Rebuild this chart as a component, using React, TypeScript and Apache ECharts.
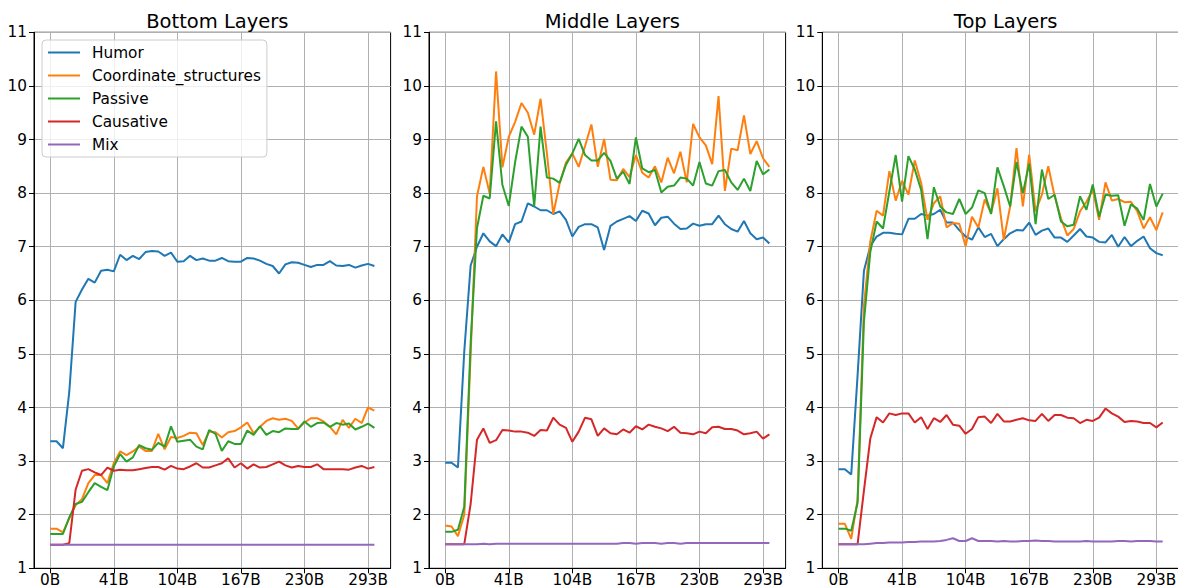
import React, { useEffect, useRef } from "react";
import * as echarts from "echarts";

const panelTitles = ["Bottom Layers", "Middle Layers", "Top Layers"];
const seriesNames = ["Humor", "Coordinate_structures", "Passive", "Causative", "Mix"];
const seriesColors = ["#1f77b4", "#ff7f0e", "#2ca02c", "#d62728", "#9467bd"];
const tickIndices = [0, 10, 20, 30, 40, 50];
const tickLabels = ["0B", "41B", "104B", "167B", "230B", "293B"];
const yTicks = [1, 2, 3, 4, 5, 6, 7, 8, 9, 10, 11];

// Bottom layers
const humorBottom = [3.37,3.37,3.24,4.29,5.97,6.2,6.4,6.33,6.55,6.57, 6.54,6.85,6.75,6.83,6.77,6.9,6.92,6.91,6.83,6.89, 6.72,6.73,6.83,6.75,6.78,6.74,6.74,6.79,6.73,6.72, 6.72,6.79,6.78,6.74,6.68,6.64,6.5,6.67,6.71,6.7, 6.66,6.62,6.66,6.66,6.73,6.65,6.64,6.66,6.61,6.65, 6.68,6.64];
const coordBottom = [1.74,1.74,1.67,1.93,2.18,2.29,2.59,2.74,2.74,2.59, 2.96,3.18,3.11,3.18,3.27,3.19,3.19,3.51,3.22,3.45, 3.43,3.47,3.53,3.52,3.30,3.55,3.54,3.44,3.54,3.56, 3.63,3.72,3.52,3.64,3.75,3.80,3.77,3.79,3.75,3.61, 3.72,3.80,3.80,3.74,3.64,3.50,3.77,3.62,3.79,3.71, 4.00,3.94];
const passiveBottom = [1.64,1.64,1.64,1.95,2.20,2.24,2.42,2.59,2.52,2.46, 2.90,3.13,2.99,3.07,3.30,3.24,3.21,3.34,3.27,3.65, 3.36,3.38,3.40,3.27,3.22,3.58,3.51,3.19,3.37,3.32, 3.32,3.57,3.49,3.65,3.49,3.56,3.54,3.61,3.60,3.60, 3.74,3.64,3.71,3.72,3.64,3.71,3.68,3.70,3.59,3.64, 3.70,3.62];
const causBottom = [1.44,1.44,1.44,1.47,2.47,2.82,2.85,2.79,2.74,2.88, 2.82,2.84,2.83,2.83,2.85,2.87,2.89,2.89,2.84,2.91, 2.86,2.85,2.90,2.96,2.88,2.88,2.92,2.96,3.05,2.88, 2.96,2.86,2.94,2.88,2.89,2.94,2.99,2.92,2.88,2.91, 2.89,2.89,2.94,2.85,2.85,2.85,2.85,2.84,2.88,2.91, 2.86,2.89];
const mixBottom = [1.44,1.44,1.44,1.44,1.44,1.44,1.44,1.44,1.44,1.44, 1.44,1.44,1.44,1.44,1.44,1.44,1.44,1.44,1.44,1.44, 1.44,1.44,1.44,1.44,1.44,1.44,1.44,1.44,1.44,1.44, 1.44,1.44,1.44,1.44,1.44,1.44,1.44,1.44,1.44,1.44, 1.44,1.44,1.44,1.44,1.44,1.44,1.44,1.44,1.44,1.44, 1.44,1.44];

// Middle layers
const humorMiddle = [2.97,2.97,2.88,5.05,6.65,7.0,7.25,7.1,7.01,7.23, 7.08,7.42,7.47,7.81,7.75,7.68,7.68,7.61,7.66,7.50, 7.19,7.37,7.42,7.42,7.36,6.94,7.39,7.47,7.52,7.57, 7.48,7.67,7.62,7.40,7.54,7.56,7.43,7.33,7.34,7.43, 7.39,7.42,7.42,7.58,7.42,7.33,7.28,7.48,7.25,7.14, 7.17,7.06];
const coordMiddle = [1.80,1.78,1.60,2.0,5.0,7.94,8.49,7.99,10.27,8.48, 9.05,9.33,9.68,9.50,9.09,9.76,8.74,7.61,8.18,8.57, 8.74,8.49,8.88,9.28,8.49,9.01,8.25,8.24,8.45,8.30, 8.71,8.38,8.29,8.50,8.20,8.66,8.37,8.77,8.20,9.29, 9.04,8.89,8.54,9.81,8.04,8.83,8.80,9.45,8.73,8.97, 8.65,8.49];
const passiveMiddle = [1.68,1.68,1.72,2.15,5.2,7.35,7.95,7.90,9.34,8.15, 7.76,8.58,9.24,9.05,7.75,9.24,8.29,8.27,8.19,8.53, 8.74,9.01,8.71,8.61,8.61,8.75,8.60,8.27,8.40,8.17, 9.04,8.46,8.39,8.43,8.01,8.12,8.14,8.29,8.27,8.14, 8.58,8.18,8.14,8.41,8.43,8.20,8.06,8.27,8.04,8.60, 8.35,8.44];
const causMiddle = [1.45,1.45,1.45,1.45,2.2,3.40,3.61,3.34,3.39,3.58, 3.57,3.55,3.55,3.53,3.47,3.58,3.57,3.81,3.68,3.62, 3.36,3.55,3.81,3.78,3.47,3.61,3.52,3.50,3.59,3.53, 3.65,3.59,3.68,3.64,3.61,3.56,3.64,3.53,3.52,3.50, 3.55,3.52,3.63,3.64,3.60,3.60,3.57,3.50,3.52,3.55, 3.42,3.50];
const mixMiddle = [1.45,1.45,1.45,1.45,1.45,1.45,1.46,1.45,1.46,1.46, 1.46,1.46,1.46,1.46,1.46,1.46,1.46,1.46,1.46,1.46, 1.46,1.46,1.46,1.46,1.46,1.46,1.46,1.46,1.47,1.47, 1.46,1.47,1.47,1.47,1.46,1.47,1.47,1.46,1.47,1.47, 1.47,1.47,1.47,1.47,1.47,1.47,1.47,1.47,1.47,1.47, 1.47,1.47];

// Top layers
const humorTop = [2.85,2.85,2.75,4.6,6.55,7.01,7.19,7.26,7.26,7.24, 7.23,7.52,7.52,7.61,7.58,7.61,7.69,7.45,7.45,7.31, 7.19,7.13,7.36,7.18,7.24,7.01,7.14,7.25,7.31,7.30, 7.45,7.22,7.30,7.34,7.17,7.17,7.09,7.21,7.33,7.19, 7.17,7.09,7.08,7.22,7.00,7.18,7.01,7.11,7.19,6.97, 6.88,6.84];
const coordTop = [1.83,1.83,1.55,2.28,5.9,7.1,7.67,7.58,8.41,7.86, 8.23,7.97,8.61,8.19,7.50,7.81,7.94,7.36,7.44,7.43, 7.01,7.56,7.36,7.88,7.63,8.09,7.13,7.75,8.84,7.75, 8.72,7.66,7.97,8.50,7.94,7.53,7.21,7.33,7.66,7.84, 8.06,7.50,8.20,7.86,7.89,7.83,7.84,7.66,7.34,7.55, 7.31,7.64];
const passiveTop = [1.74,1.74,1.70,2.22,5.6,6.9,7.47,7.34,8.03,8.71, 7.84,8.69,8.44,8.06,7.14,8.11,7.75,7.64,7.61,7.89, 7.61,7.73,8.05,8.00,7.61,8.48,8.13,7.75,8.58,8.00, 8.55,7.42,8.44,7.89,7.97,7.47,7.38,7.41,7.94,7.69, 8.16,7.56,7.97,7.95,7.96,7.39,7.79,7.71,7.50,8.17, 7.75,7.99];
const causTop = [1.45,1.45,1.45,1.45,2.45,3.42,3.82,3.72,3.89,3.86, 3.89,3.89,3.72,3.82,3.60,3.80,3.73,3.86,3.68,3.66, 3.51,3.60,3.82,3.83,3.71,3.88,3.74,3.74,3.77,3.80, 3.76,3.75,3.88,3.75,3.86,3.86,3.81,3.80,3.71,3.77, 3.75,3.81,3.98,3.89,3.83,3.73,3.75,3.74,3.71,3.71, 3.63,3.72];
const mixTop = [1.45,1.45,1.45,1.45,1.45,1.46,1.47,1.47,1.48,1.48, 1.48,1.49,1.49,1.50,1.50,1.50,1.51,1.53,1.56,1.51, 1.51,1.56,1.51,1.51,1.51,1.50,1.51,1.50,1.50,1.51, 1.51,1.52,1.51,1.51,1.50,1.50,1.50,1.50,1.50,1.51, 1.50,1.50,1.50,1.50,1.51,1.51,1.50,1.51,1.51,1.51, 1.50,1.50];

const panelData = [
  [humorBottom, coordBottom, passiveBottom, causBottom, mixBottom],
  [humorMiddle, coordMiddle, passiveMiddle, causMiddle, mixMiddle],
  [humorTop, coordTop, passiveTop, causTop, mixTop],
];

const FONT = "DejaVu Sans";
const gridLefts = [34, 429, 822.3];
const GRID_TOP = 32.3;
const GRID_W = 356.6;
const GRID_H = 536;

export default function App() {
  const ref = useRef<HTMLDivElement>(null);
  useEffect(() => {
    if (!ref.current) return;
    const chart = echarts.init(ref.current, undefined, { renderer: "svg" });
    const grids = gridLefts.map((left) => ({
      left,
      top: GRID_TOP,
      width: GRID_W,
      height: GRID_H,
      show: true,
      borderColor: "#000",
      borderWidth: 1,
      backgroundColor: "transparent",
      containLabel: false,
      outerBoundsMode: "none",
    }));
    const xAxes = gridLefts.map((_, p) => ({
      type: "value",
      gridIndex: p,
      min: -2.55,
      max: 53.55,
      axisLine: { show: true, onZero: false, lineStyle: { color: "#000", width: 1 } },
      axisTick: { show: true, customValues: tickIndices, length: 5, lineStyle: { color: "#000", width: 1 } },
      axisLabel: {
        customValues: tickIndices,
        formatter: (v: number) => {
          const k = tickIndices.indexOf(Math.round(v));
          return k >= 0 ? tickLabels[k] : "";
        },
        fontSize: 15.3,
        lineHeight: 15,
        fontFamily: FONT,
        color: "#000",
        margin: 4,
      },
      splitLine: { show: true, lineStyle: { color: "#b0b0b0", width: 1 } },
    }));
    const yAxes = gridLefts.map((_, p) => ({
      type: "value",
      gridIndex: p,
      min: yTicks[0],
      max: yTicks[yTicks.length - 1],
      interval: 1,
      axisLine: { show: true, onZero: false, lineStyle: { color: "#000", width: 1 } },
      axisTick: { show: true, length: 5, lineStyle: { color: "#000", width: 1 } },
      axisLabel: { fontSize: 15.3, fontFamily: FONT, color: "#000", margin: 7 },
      splitLine: { show: true, lineStyle: { color: "#b0b0b0", width: 1 } },
    }));
    const series: any[] = [];
    panelData.forEach((arrs, p) => {
      arrs.forEach((vals, s) => {
        series.push({
          type: "line",
          name: seriesNames[s],
          xAxisIndex: p,
          yAxisIndex: p,
          data: vals.map((v, i) => [i, v]),
          symbol: "none",
          showSymbol: false,
          color: seriesColors[s],
          lineStyle: { width: 2, color: seriesColors[s] },
          z: 2 + s * 0.01,
        });
      });
    });
    chart.setOption({
      animation: false,
      backgroundColor: "#fff",
      title: panelTitles.map((t, p) => ({
        text: t,
        left: gridLefts[p] + GRID_W / 2,
        textAlign: "center",
        top: 6,
        textStyle: { fontSize: 19.5, fontWeight: "normal", fontFamily: FONT, color: "#000" },
      })),
      legend: {
        data: seriesNames.map((n) => ({ name: n, icon: "rect" })),
        orient: "vertical",
        left: 42,
        top: 40,
        itemWidth: 32,
        itemHeight: 2,
        itemGap: 6,
        padding: [4, 6, 4, 6],
        backgroundColor: "rgba(255,255,255,0.8)",
        borderColor: "#cccccc",
        borderWidth: 1,
        borderRadius: 4,
        textStyle: { fontSize: 15.3, fontFamily: FONT, color: "#000", lineHeight: 17, padding: [0, 0, 0, 7] },
      },
      grid: grids,
      xAxis: xAxes,
      yAxis: yAxes,
      series,
    } as any);
    return () => chart.dispose();
  }, []);
  return (
    <div
      ref={ref}
      style={{ position: "absolute", left: 0, top: 0, width: 1178, height: 588, background: "#fff" }}
    />
  );
}
